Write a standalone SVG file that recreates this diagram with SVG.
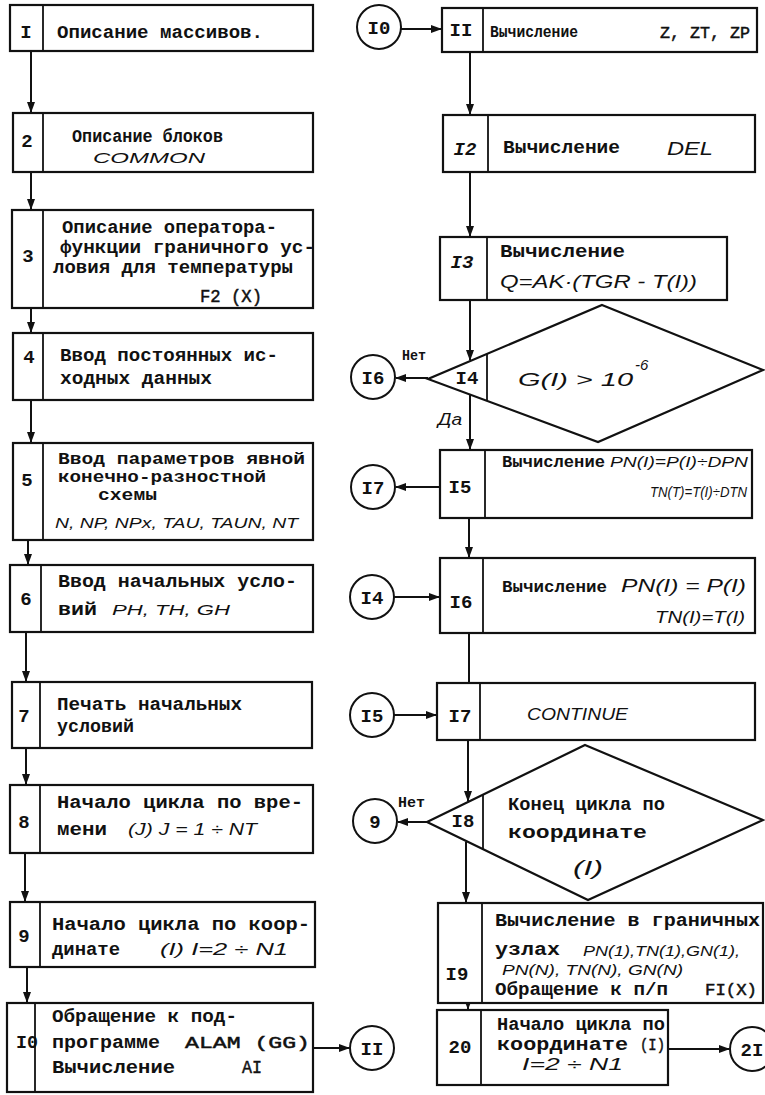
<svg xmlns="http://www.w3.org/2000/svg" width="765" height="1095" viewBox="0 0 765 1095">
<defs>
<style>
.b{fill:#fff;stroke:#111;stroke-width:2.2}
.dv{stroke:#111;stroke-width:1.8;fill:none}
.ln{stroke:#111;stroke-width:2;fill:none}
.t{font-family:"Liberation Mono","DejaVu Sans Mono",monospace;font-weight:bold;font-size:19px;fill:#111}
.m{font-family:"Liberation Sans","DejaVu Sans",sans-serif;font-style:italic;font-size:17px;fill:#111}
.n{font-family:"Liberation Mono","DejaVu Sans Mono",monospace;font-weight:bold;font-size:19px;fill:#111;text-anchor:middle}
.c{fill:#fff;stroke:#111;stroke-width:2}
</style>
<marker id="ah" markerUnits="userSpaceOnUse" markerWidth="11" markerHeight="8" refX="10" refY="4" orient="auto">
<path d="M0,0 L11,4 L0,8 z" fill="#111"/>
</marker>
</defs>
<rect width="765" height="1095" fill="#fff"/>

<g id="connectors">
<path class="ln" d="M31,51 V112" marker-end="url(#ah)"/>
<path class="ln" d="M31,172 V209" marker-end="url(#ah)"/>
<path class="ln" d="M31,308 V332" marker-end="url(#ah)"/>
<path class="ln" d="M31,400 V442" marker-end="url(#ah)"/>
<path class="ln" d="M28,540 V564" marker-end="url(#ah)"/>
<path class="ln" d="M26,632 V681" marker-end="url(#ah)"/>
<path class="ln" d="M26,748 V784" marker-end="url(#ah)"/>
<path class="ln" d="M25,853 V901" marker-end="url(#ah)"/>
<path class="ln" d="M27,967 V1002" marker-end="url(#ah)"/>
<path class="ln" d="M313,1048 H349" marker-end="url(#ah)"/>
<path class="ln" d="M401,29 H441" marker-end="url(#ah)"/>
<path class="ln" d="M470,52 V114" marker-end="url(#ah)"/>
<path class="ln" d="M470,172 V236" marker-end="url(#ah)"/>
<path class="ln" d="M470,300 V360" marker-end="url(#ah)"/>
<path class="ln" d="M470,395 V449" marker-end="url(#ah)"/>
<path class="ln" d="M428,378 H396" marker-end="url(#ah)"/>
<path class="ln" d="M440,487 H396" marker-end="url(#ah)"/>
<path class="ln" d="M469,518 V557" marker-end="url(#ah)"/>
<path class="ln" d="M394,597 H439" marker-end="url(#ah)"/>
<path class="ln" d="M469,633 V682"/>
<path class="ln" d="M394,715 H436" marker-end="url(#ah)"/>
<path class="ln" d="M468,740 V801" marker-end="url(#ah)"/>
<path class="ln" d="M427,822 H398" marker-end="url(#ah)"/>
<path class="ln" d="M466,842 V902" marker-end="url(#ah)"/>
<path class="ln" d="M468,1003 V1009" marker-end="url(#ah)"/>
<path class="ln" d="M668,1049 H729" marker-end="url(#ah)"/>
<text class="t" x="402" y="360" style="font-size:15px" textLength="24" lengthAdjust="spacingAndGlyphs">Нет</text>
<text class="m" x="438" y="425" style="font-size:16px" textLength="24" lengthAdjust="spacingAndGlyphs">Да</text>
<text class="t" x="398" y="807" style="font-size:15px" textLength="27" lengthAdjust="spacingAndGlyphs">Нет</text>
</g>

<g id="n1">
<rect class="b" x="10" y="5" width="303" height="46"/>
<line class="dv" x1="43" y1="5" x2="43" y2="51"/>
<text class="n" x="26" y="38">I</text>
<text class="t" x="57" y="38" textLength="206" lengthAdjust="spacingAndGlyphs">Описание массивов.</text>
</g>

<g id="n2">
<rect class="b" x="13" y="113" width="300" height="59"/>
<line class="dv" x1="43" y1="113" x2="43" y2="172"/>
<text class="n" x="27" y="147">2</text>
<text class="t" x="72" y="142" textLength="151" lengthAdjust="spacingAndGlyphs">Описание блоков</text>
<text class="m" x="93" y="163" style="font-size:15px" textLength="112" lengthAdjust="spacingAndGlyphs">COMMON</text>
</g>

<g id="n3">
<rect class="b" x="12" y="210" width="301" height="98"/>
<line class="dv" x1="43" y1="210" x2="43" y2="308"/>
<text class="n" x="28" y="262">3</text>
<text class="t" x="62" y="233" textLength="215" lengthAdjust="spacingAndGlyphs">Описание оператора-</text>
<text class="t" x="60" y="253" textLength="255" lengthAdjust="spacingAndGlyphs">функции граничного ус-</text>
<text class="t" x="53" y="273" textLength="240" lengthAdjust="spacingAndGlyphs">ловия для температуры</text>
<text class="t" x="200" y="302" style="font-weight:normal;stroke:#111;stroke-width:0.5" textLength="62" lengthAdjust="spacingAndGlyphs">F2 (X)</text>
</g>

<g id="n4">
<rect class="b" x="13" y="333" width="300" height="67"/>
<line class="dv" x1="43" y1="333" x2="43" y2="400"/>
<text class="n" x="29" y="363">4</text>
<text class="t" x="60" y="361" textLength="218" lengthAdjust="spacingAndGlyphs">Ввод постоянных ис-</text>
<text class="t" x="60" y="384" textLength="152" lengthAdjust="spacingAndGlyphs">ходных данных</text>
</g>

<g id="n5">
<rect class="b" x="13" y="443" width="300" height="97"/>
<line class="dv" x1="43" y1="443" x2="43" y2="540"/>
<text class="n" x="27" y="486">5</text>
<text class="t" x="58" y="464" style="font-size:17px" textLength="247" lengthAdjust="spacingAndGlyphs">Ввод параметров явной</text>
<text class="t" x="58" y="482" style="font-size:17px" textLength="208" lengthAdjust="spacingAndGlyphs">конечно-разностной</text>
<text class="t" x="98" y="500" style="font-size:17px" textLength="59" lengthAdjust="spacingAndGlyphs">схемы</text>
<text class="m" x="55" y="528" style="font-size:15px" textLength="243" lengthAdjust="spacingAndGlyphs">N, NP, NPx, TAU, TAUN, NT</text>
</g>

<g id="n6">
<rect class="b" x="10" y="565" width="303" height="67"/>
<line class="dv" x1="41" y1="565" x2="41" y2="632"/>
<text class="n" x="26" y="605">6</text>
<text class="t" x="58" y="587" textLength="239" lengthAdjust="spacingAndGlyphs">Ввод начальных усло-</text>
<text class="t" x="58" y="615" textLength="39" lengthAdjust="spacingAndGlyphs">вий</text>
<text class="m" x="112" y="615" style="font-size:15px" textLength="118" lengthAdjust="spacingAndGlyphs">PH, TH, GH</text>
</g>

<g id="n7">
<rect class="b" x="12" y="682" width="300" height="66"/>
<line class="dv" x1="40" y1="682" x2="40" y2="748"/>
<text class="n" x="24" y="722">7</text>
<text class="t" x="57" y="710" textLength="185" lengthAdjust="spacingAndGlyphs">Печать начальных</text>
<text class="t" x="57" y="732" textLength="77" lengthAdjust="spacingAndGlyphs">условий</text>
</g>

<g id="n8">
<rect class="b" x="10" y="785" width="303" height="68"/>
<line class="dv" x1="40" y1="785" x2="40" y2="853"/>
<text class="n" x="24" y="828">8</text>
<text class="t" x="57" y="808" textLength="246" lengthAdjust="spacingAndGlyphs">Начало цикла по вре-</text>
<text class="t" x="57" y="835" textLength="50" lengthAdjust="spacingAndGlyphs">мени</text>
<text class="m" x="128" y="835" style="font-size:16px" textLength="129" lengthAdjust="spacingAndGlyphs">(J) J = 1 ÷ NT</text>
</g>

<g id="n9">
<rect class="b" x="10" y="902" width="305" height="65"/>
<line class="dv" x1="40" y1="902" x2="40" y2="967"/>
<text class="n" x="24" y="942">9</text>
<text class="t" x="52" y="930" textLength="258" lengthAdjust="spacingAndGlyphs">Начало цикла по коор-</text>
<text class="t" x="52" y="955" textLength="68" lengthAdjust="spacingAndGlyphs">динате</text>
<text class="m" x="160" y="955" textLength="128" lengthAdjust="spacingAndGlyphs">(I) I=2 ÷ N1</text>
</g>

<g id="n10">
<rect class="b" x="7" y="1003" width="306" height="89"/>
<text class="t" x="16" y="1048" textLength="22" lengthAdjust="spacingAndGlyphs">I0</text>
<line class="dv" x1="35" y1="1003" x2="35" y2="1092"/>
<text class="t" x="52" y="1022" textLength="185" lengthAdjust="spacingAndGlyphs">Обращение к под-</text>
<text class="t" x="52" y="1048" textLength="108" lengthAdjust="spacingAndGlyphs">программе</text>
<text class="t" x="185" y="1048" style="font-weight:normal;font-size:17px;stroke:#111;stroke-width:0.5" textLength="125" lengthAdjust="spacingAndGlyphs">ALAM (GG)</text>
<text class="t" x="52" y="1073" textLength="123" lengthAdjust="spacingAndGlyphs">Вычисление</text>
<text class="t" x="242" y="1073" style="font-weight:normal;stroke:#111;stroke-width:0.5" textLength="20" lengthAdjust="spacingAndGlyphs">AI</text>
</g>

<g id="c_I0"><circle class="c" cx="379" cy="27" r="22"/><text class="n" x="379" y="34">I0</text></g>
<g id="c_I6"><circle class="c" cx="373" cy="377" r="22"/><text class="n" x="373" y="384">I6</text></g>
<g id="c_I7"><circle class="c" cx="373" cy="487" r="22"/><text class="n" x="373" y="494">I7</text></g>
<g id="c_I4"><circle class="c" cx="372" cy="597" r="22"/><text class="n" x="372" y="604">I4</text></g>
<g id="c_I5"><circle class="c" cx="372" cy="715" r="22"/><text class="n" x="372" y="722">I5</text></g>
<g id="c_9"><circle class="c" cx="375" cy="821" r="22"/><text class="n" x="375" y="828">9</text></g>
<g id="c_II"><circle class="c" cx="372" cy="1048" r="22"/><text class="n" x="372" y="1055">II</text></g>
<g id="c_2I"><circle class="c" cx="752" cy="1049" r="22"/><text class="n" x="752" y="1056">2I</text></g>

<g id="n11">
<rect class="b" x="442" y="8" width="315" height="44"/>
<line class="dv" x1="483" y1="8" x2="483" y2="52"/>
<text class="n" x="461" y="36">II</text>
<text class="t" x="490" y="37" style="font-size:16px" textLength="88" lengthAdjust="spacingAndGlyphs">Вычисление</text>
<text class="t" x="660" y="38" style="font-weight:normal;font-size:17px;stroke:#111;stroke-width:0.5" textLength="90" lengthAdjust="spacingAndGlyphs">Z, ZT, ZP</text>
</g>

<g id="n12">
<rect class="b" x="443" y="115" width="312" height="57"/>
<line class="dv" x1="488" y1="115" x2="488" y2="172"/>
<text class="n" x="465" y="155" font-style="italic">I2</text>
<text class="t" x="503" y="153" textLength="117" lengthAdjust="spacingAndGlyphs">Вычисление</text>
<text class="m" x="667" y="155" style="font-size:18px" textLength="46" lengthAdjust="spacingAndGlyphs">DEL</text>
</g>

<g id="n13">
<rect class="b" x="440" y="237" width="287" height="63"/>
<line class="dv" x1="487" y1="237" x2="487" y2="300"/>
<text class="n" x="462" y="268" font-style="italic">I3</text>
<text class="t" x="500" y="257" textLength="125" lengthAdjust="spacingAndGlyphs">Вычисление</text>
<text class="m" x="500" y="288" style="font-size:18px" textLength="197" lengthAdjust="spacingAndGlyphs">Q=AK·(TGR - T(I))</text>
</g>

<g id="n14">
<polygon class="b" points="602,305 763,370 598,442 428,379"/>
<line class="dv" x1="487" y1="354" x2="487" y2="401"/>
<text class="n" x="467" y="384">I4</text>
<text class="m" x="518" y="386" style="font-size:18px" textLength="115" lengthAdjust="spacingAndGlyphs">G(I) &gt; 10</text>
<text class="m" x="635" y="370" style="font-size:15px">-6</text>
</g>

<g id="n15">
<rect class="b" x="440" y="450" width="312" height="68"/>
<line class="dv" x1="485" y1="450" x2="485" y2="518"/>
<text class="n" x="460" y="493">I5</text>
<text class="t" x="502" y="467" style="font-size:16px" textLength="103" lengthAdjust="spacingAndGlyphs">Вычисление</text>
<text class="m" x="610" y="467" style="font-size:14px" textLength="138" lengthAdjust="spacingAndGlyphs">PN(I)=P(I)÷DPN</text>
<text class="m" x="650" y="497" style="font-size:14px" textLength="97" lengthAdjust="spacingAndGlyphs">TN(T)=T(I)÷DTN</text>
</g>

<g id="n16">
<rect class="b" x="440" y="558" width="315" height="75"/>
<line class="dv" x1="483" y1="558" x2="483" y2="633"/>
<text class="n" x="461" y="608">I6</text>
<text class="t" x="502" y="592" style="font-size:16px" textLength="105" lengthAdjust="spacingAndGlyphs">Вычисление</text>
<text class="m" x="621" y="592" style="font-size:18px" textLength="125" lengthAdjust="spacingAndGlyphs">PN(I) = P(I)</text>
<text class="m" x="655" y="623" textLength="90" lengthAdjust="spacingAndGlyphs">TN(I)=T(I)</text>
</g>

<g id="n17">
<rect class="b" x="437" y="683" width="318" height="57"/>
<line class="dv" x1="480" y1="683" x2="480" y2="740"/>
<text class="n" x="460" y="722">I7</text>
<text class="m" x="527" y="720" style="font-size:16px" textLength="101" lengthAdjust="spacingAndGlyphs">CONTINUE</text>
</g>

<g id="n18">
<polygon class="b" points="585,745 763,820 588,900 427,822"/>
<line class="dv" x1="483" y1="795" x2="483" y2="849"/>
<text class="n" x="463" y="827">I8</text>
<text class="t" x="508" y="810" textLength="157" lengthAdjust="spacingAndGlyphs">Конец цикла по</text>
<text class="t" x="508" y="838" textLength="139" lengthAdjust="spacingAndGlyphs">координате</text>
<text class="m" x="573" y="875" style="font-size:20px" textLength="30" lengthAdjust="spacingAndGlyphs">(I)</text>
</g>

<g id="n19">
<rect class="b" x="438" y="903" width="325" height="100"/>
<line class="dv" x1="482" y1="903" x2="482" y2="1003"/>
<text class="n" x="457" y="980">I9</text>
<text class="t" x="495" y="926" style="font-size:18px" textLength="265" lengthAdjust="spacingAndGlyphs">Вычисление в граничных</text>
<text class="t" x="495" y="955" style="font-size:18px" textLength="65" lengthAdjust="spacingAndGlyphs">узлах</text>
<text class="m" x="583" y="956" style="font-size:15px" textLength="157" lengthAdjust="spacingAndGlyphs">PN(1),TN(1),GN(1),</text>
<text class="m" x="502" y="975" style="font-size:15px" textLength="181" lengthAdjust="spacingAndGlyphs">PN(N), TN(N), GN(N)</text>
<text class="t" x="495" y="995" style="font-size:18px" textLength="173" lengthAdjust="spacingAndGlyphs">Обращение к п/п</text>
<text class="t" x="705" y="995" style="font-weight:normal;font-size:17px;stroke:#111;stroke-width:0.5" textLength="52" lengthAdjust="spacingAndGlyphs">FI(X)</text>
</g>

<g id="n20">
<rect class="b" x="437" y="1010" width="231" height="75"/>
<line class="dv" x1="481" y1="1010" x2="481" y2="1085"/>
<text class="n" x="460" y="1053">20</text>
<text class="t" x="497" y="1030" style="font-size:18px" textLength="168" lengthAdjust="spacingAndGlyphs">Начало цикла по</text>
<text class="t" x="497" y="1050" style="font-size:18px" textLength="131" lengthAdjust="spacingAndGlyphs">координате</text>
<text class="t" x="640" y="1050" style="font-weight:normal;font-size:17px;stroke:#111;stroke-width:0.5" textLength="25" lengthAdjust="spacingAndGlyphs">(I)</text>
<text class="m" x="522" y="1070" textLength="101" lengthAdjust="spacingAndGlyphs">I=2 ÷ N1</text>
</g>
</svg>
